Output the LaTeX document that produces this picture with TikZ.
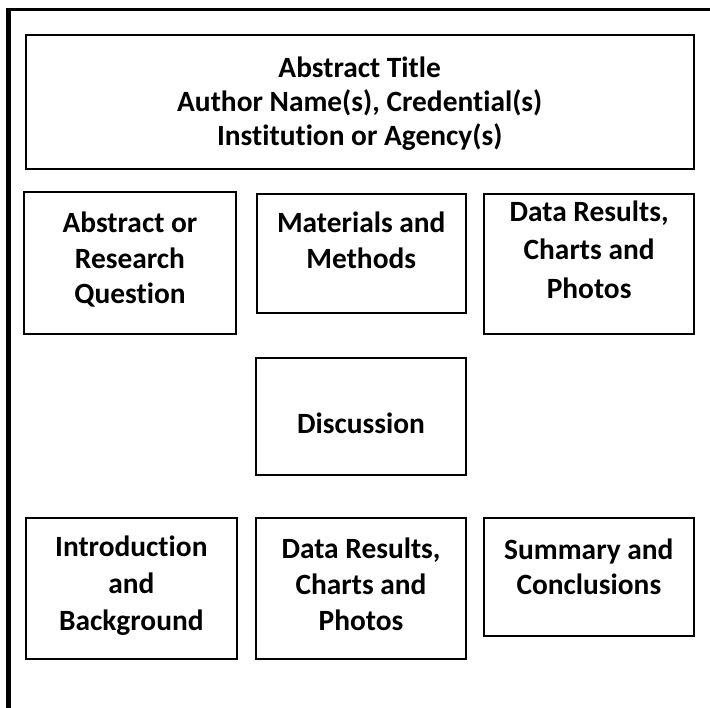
\documentclass[tikz,border=0pt]{standalone}
\usepackage{fontspec}
\setmainfont{Carlito}[Ligatures={NoCommon,NoContextual}]
\usetikzlibrary{fit}
\begin{document}
\begin{tikzpicture}[x=1pt,y=-1pt,
  box/.style={draw=black, line width=2pt, rectangle, inner sep=0pt},
  txt/.style={font=\fontsize{29.4}{#1}\selectfont\bfseries, align=center, inner sep=0pt, text=black},
  txt/.default=35.5,
  frame/.style={draw=black, line cap=butt}
]
\useasboundingbox[fill=white] (0,0) rectangle (710,708);
% outer frame (left and top edges)
\draw[frame, line width=5pt] (8.5,708) -- (8.5,8);
\draw[frame, line width=3.5pt] (6,9.75) -- (710,9.75);

% boxes
\node[box, fit={(25.7,35.2)(693.7,169.2)}] (title) {};
\node[box, fit={(24.2,192.5)(235.8,334.3)}] (abs) {};
\node[box, fit={(256.5,194)(466,313.5)}] (mat) {};
\node[box, fit={(484.2,194)(694,334.3)}] (data1) {};
\node[box, fit={(256,357.8)(466,475.5)}] (disc) {};
\node[box, fit={(25.8,518.5)(236.8,659)}] (intro) {};
\node[box, fit={(256,518.5)(466,659)}] (data2) {};
\node[box, fit={(484.2,518.5)(693.5,635.8)}] (summ) {};

% texts
\node[txt=34] (titletxt) at (title.center |- 0,105.2)
  {\strut Abstract Title\\\strut Author Name(s), Credential(s)\\\strut Institution or Agency(s)};
\node[txt] (abstxt) at (abs.center |- 0,261)
  {\strut Abstract or\\\strut Research\\\strut Question};
\node[txt] (mattxt) at (mat.center |- 0,243.4)
  {\strut Materials and\\\strut Methods};
\node[txt=38.3] (data1txt) at (data1.center |- 0,252.3)
  {\strut Data Results,\\\strut Charts and\\\strut Photos};
\node[txt] (disctxt) at (disc.center |- 0,426)
  {\strut Discussion};
\node[txt=37] (introtxt) at (intro.center |- 0,586)
  {\strut Introduction\\\strut and\\\strut Background};
\node[txt=36] (data2txt) at (data2.center |- 0,587)
  {\strut Data Results,\\\strut Charts and\\\strut Photos};
\node[txt=35] (summtxt) at (summ.center |- 0,569.8)
  {\strut Summary and\\\strut Conclusions};
\end{tikzpicture}
\end{document}
